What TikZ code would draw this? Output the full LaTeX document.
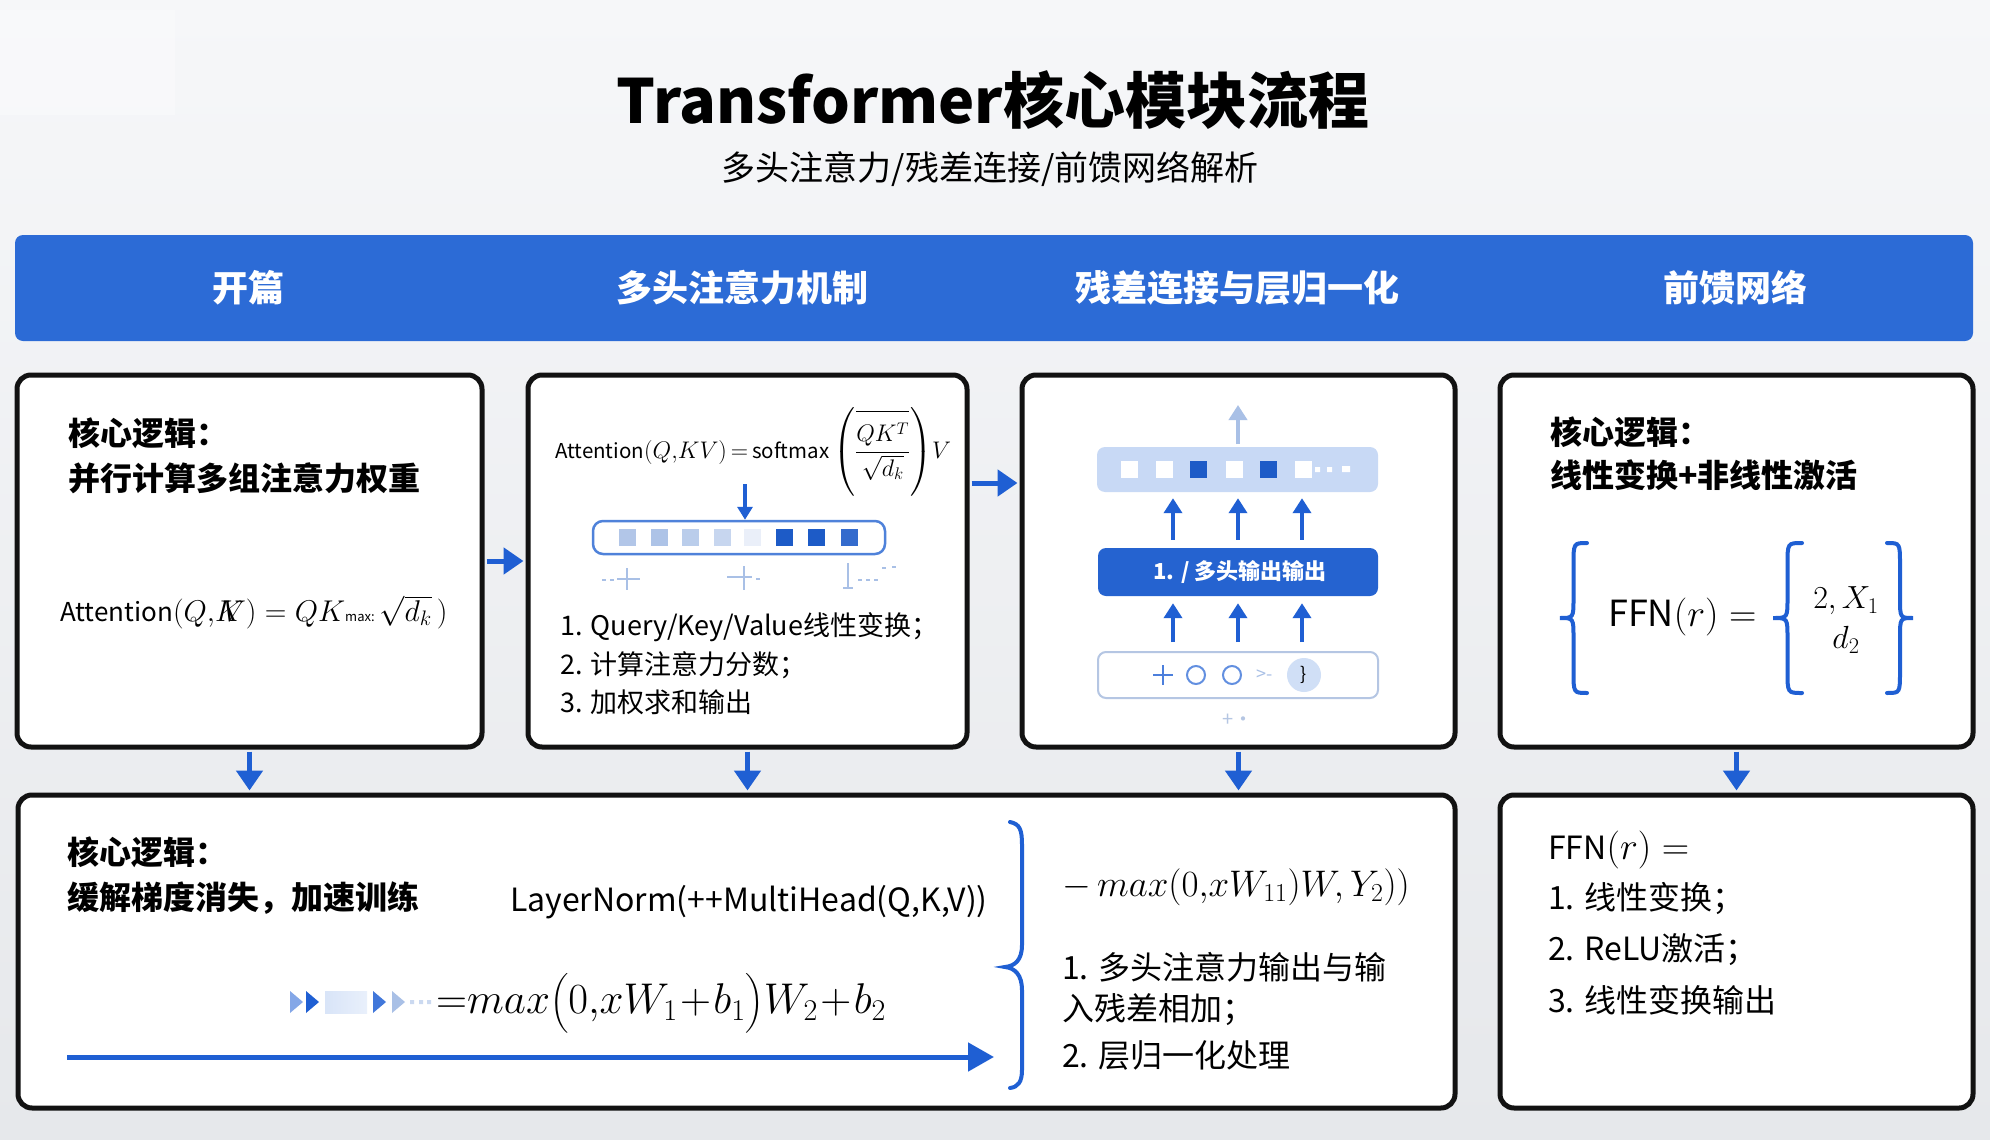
\RequirePackage{fix-cm}
\documentclass[tikz,border=0pt]{standalone}
\usepackage{amsmath}
\usepackage{fontspec}
\setmainfont{Noto Sans CJK SC}
\usetikzlibrary{arrows.meta}
\definecolor{bandblue}{HTML}{2C6BD6}
\definecolor{arrblue}{HTML}{1F5FD3}
\definecolor{dkblue}{HTML}{1D5BC7}
\definecolor{midblue}{HTML}{2563D0}
\definecolor{ltblue}{HTML}{C8D9F5}
\definecolor{boxline}{HTML}{121212}
\definecolor{bgtop}{HTML}{F6F7F9}
\definecolor{bgbot}{HTML}{E6E8EB}
\definecolor{faint}{HTML}{A9C0E6}
\definecolor{barline}{HTML}{4F82DA}
\definecolor{bbline}{HTML}{B5C6E3}

\newcommand\mkbox[6]{%
 \pgfmathsetmacro\mbw{#4-#2}\pgfmathsetmacro\mbh{#5-#3}%
 \pgfmathsetmacro\mcx{(#2+#4)/2}\pgfmathsetmacro\mcy{(#3+#5)/2}%
 \node[#6, inner sep=0pt, minimum width=\mbw pt, minimum height=\mbh pt] (#1) at (\mcx,\mcy) {};}
\newcommand\sqr[3]{\fill[#3] ({#1-8.5},{#2-8.5}) rectangle ({#1+8.5},{#2+8.5});}
\newcommand\lbrc[4]{%
 \pgfmathsetmacro\bxm{(#1+#2)/2}\pgfmathsetmacro\bym{(#3+#4)/2}%
 \draw[brc] (#2,#3) .. controls (\bxm,#3) .. (\bxm,{#3+22}) -- (\bxm,{\bym-20}) .. controls (\bxm,\bym) .. (#1,\bym) .. controls (\bxm,\bym) .. (\bxm,{\bym+20}) -- (\bxm,{#4-22}) .. controls (\bxm,#4) .. (#2,#4);}
\newcommand\rbrc[4]{%
 \pgfmathsetmacro\bxm{(#1+#2)/2}\pgfmathsetmacro\bym{(#3+#4)/2}%
 \draw[brc] (#1,#3) .. controls (\bxm,#3) .. (\bxm,{#3+22}) -- (\bxm,{\bym-20}) .. controls (\bxm,\bym) .. (#2,\bym) .. controls (\bxm,\bym) .. (\bxm,{\bym+20}) -- (\bxm,{#4-22}) .. controls (\bxm,#4) .. (#1,#4);}
\newcommand\chev[4]{\fill[#4] (#1,{#3-11}) -- ({#1+#2},#3) -- (#1,{#3+11}) -- cycle;}
\newcommand\fs[1]{\fontsize{#1}{#1}\selectfont}

\begin{document}
\begin{tikzpicture}[x=1pt,y=-1pt,
  box/.style={draw=boxline, line width=5pt, fill=white, rounded corners=14pt},
  arr/.style={draw=arrblue, line width=5pt, shorten <=2pt, shorten >=2pt, -{Triangle[length=20pt,width=26pt]}},
  uparr/.style={draw=arrblue, line width=4.5pt, -{Triangle[length=15pt,width=18pt]}},
  txt/.style={anchor=west, inner sep=0pt, font=\fontsize{32}{38}\selectfont},
  btxt/.style={anchor=west, inner sep=0pt, font=\fontsize{32}{38}\selectfont\bfseries},
  hdr/.style={text=white, inner sep=0pt, font=\fontsize{36}{40}\selectfont\bfseries},
  brc/.style={draw=arrblue, line width=4pt, line cap=round},
]
\useasboundingbox (0,0) rectangle (1990,1140);
\shade[top color=bgtop, bottom color=bgbot] (0,0) rectangle (1990,1140);
\fill[white, opacity=0.3] (0,10) rectangle (175,115);

% title
\node[inner sep=0pt, font=\fontsize{61}{68}\selectfont\bfseries] (title) at (993,100) {Transformer核心模块流程};
\node[inner sep=0pt, font=\fontsize{34}{40}\selectfont] (sub) at (990,169) {多头注意力/残差连接/前馈网络解析};

% band
\mkbox{band}{15}{235}{1973}{341}{fill=bandblue, draw=none, rounded corners=8pt}
\node[hdr] (h1) at (248,288) {开篇};
\node[hdr] (h2) at (742,288) {多头注意力机制};
\node[hdr] (h3) at (1237,288) {残差连接与层归一化};
\node[hdr] (h4) at (1735,288) {前馈网络};

% boxes
\mkbox{b1}{17}{375}{482}{747}{box}
\mkbox{b2}{528}{375}{967}{747}{box}
\mkbox{b3}{1022}{375}{1455}{747}{box}
\mkbox{b4}{1500}{375}{1973}{747}{box}
\mkbox{b5}{18}{795}{1455}{1108}{box}
\mkbox{b6}{1500}{795}{1973}{1108}{box}

% connectors
\draw[arr] (b1.east) -- (b2.west);
\draw[arr] ([yshift=78pt]b2.east) -- ([yshift=78pt]b3.west);
\draw[arr] (b1.south) -- (b1.south |- b5.north);
\draw[arr] (b2.south) -- (b2.south |- b5.north);
\draw[arr] (b3.south) -- (b3.south |- b5.north);
\draw[arr] (b4.south) -- (b6.north);

% box 1
\node[btxt] (t1a) at (68,433) {核心逻辑：};
\node[btxt] (t1b) at (68,478) {并行计算多组注意力权重};
\node[txt, font=\fs{30}] (f1) at (60,612) {{\fs{26}Attention}$(Q,\!K\!\!\!\!V) = QK${\fs{13}max:}$\,\sqrt{d_k}\,)$};

% box 2
\node[txt, font=\fs{24}] (f2) at (555,452) {{\fs{20.5}Attention}$(Q,\!KV)\,{=}\,${\fs{20.5}softmax}$\,\left(\dfrac{\overline{\rule{0pt}{1.1em}QK^T}}{\sqrt{d_k}}\right)\!V$};
\coordinate (d2a) at (745,484);
\mkbox{bar2}{593}{521}{885}{554}{fill=white, draw=barline, line width=2.5pt, rounded corners=10pt}
\draw[draw=arrblue, line width=3.5pt, -{Triangle[length=13pt,width=15pt]}] (d2a) -- (d2a |- bar2.north);
\sqr{627}{537}{fill=faint!90!white}
\sqr{659}{537}{fill=faint!95!white}
\sqr{690}{537}{fill=faint!80!white}
\sqr{722}{537}{fill=faint!65!white}
\sqr{752}{537}{fill=faint!25!white}
\sqr{784}{537}{fill=dkblue}
\sqr{816}{537}{fill=dkblue}
\sqr{849}{537}{fill=dkblue!90!white}
\begin{scope}[draw=faint, line width=2pt]
 \draw (602,580) -- (606,580) (610,580) -- (614,580);
 \draw (617,579) -- (640,579) (627,568) -- (627,590);
 \draw (727,577) -- (752,577) (744,566) -- (744,590) (756,579) -- (760,579);
 \draw (848,563) -- (848,588) (843,588) -- (853,588) (858,580) -- (862,580) (866,580) -- (870,580) (874,580) -- (878,580) (882,568) -- (886,568) (892,567) -- (896,567);
\end{scope}
\node[txt, font=\fontsize{27}{32}\selectfont] (l2a) at (560,627) {1. Query/Key/Value线性变换；};
\node[txt, font=\fontsize{27}{32}\selectfont] (l2b) at (560,665) {2. 计算注意力分数；};
\node[txt, font=\fontsize{27}{32}\selectfont] (l2c) at (560,702) {3. 加权求和输出};

% box 3
\mkbox{tb3}{1097}{447}{1378}{492}{fill=ltblue, draw=none, rounded corners=8pt}
\coordinate (u0a) at (1238,444);
\coordinate (u0b) at (1238,405);
\draw[uparr, draw=faint] (u0a) -- (u0b);
\sqr{1129}{469}{fill=white}
\sqr{1164}{469}{fill=white}
\sqr{1198}{469}{fill=dkblue}
\sqr{1234}{469}{fill=white}
\sqr{1268}{469}{fill=dkblue}
\sqr{1303}{469}{fill=white}
\fill[white] (1315,467) rectangle (1320,472) (1327,467) rectangle (1332,472) (1342,466) rectangle (1350,472);
\mkbox{mb3}{1098}{548}{1378}{596}{fill=midblue, draw=none, rounded corners=8pt}
\node[text=white, inner sep=0pt, font=\fontsize{22}{24}\selectfont\bfseries] (mbt) at (1240,572) {1. / 多头输出输出};
\mkbox{bb3}{1098}{652}{1378}{698}{fill=white, draw=bbline, line width=2pt, rounded corners=8pt}
\foreach \dx in {-65,0,64}{
  \draw[uparr, shorten <=8pt, shorten >=6pt] ([xshift=\dx pt]mb3.north) -- ([xshift=\dx pt]mb3.north |- tb3.south);
  \draw[uparr, shorten <=9pt, shorten >=7pt] ([xshift=\dx pt]bb3.north) -- ([xshift=\dx pt]bb3.north |- mb3.south);
}
\draw[line width=2.5pt, draw=arrblue!80!white] (1153,675) -- (1173,675) (1163,665) -- (1163,685);
\draw[line width=2pt, draw=arrblue!70!white] (1196,675) circle (9pt);
\draw[line width=2pt, draw=arrblue!70!white] (1232,675) circle (9pt);
\node[text=faint, inner sep=0pt, font=\fontsize{18}{20}\selectfont] (gt3) at (1265,675) {>-};
\node[circle, fill=ltblue!85!white, minimum size=34pt, inner sep=0pt, font=\fontsize{18}{20}\selectfont] (cc3) at (1304,675) {\}};
\node[text=bbline, inner sep=0pt, font=\fontsize{20}{22}\selectfont] (pl3) at (1238,720) {+·};

% box 4
\node[btxt] (t4a) at (1550,432) {核心逻辑：};
\node[btxt] (t4b) at (1550,475) {线性变换+非线性激活};
\lbrc{1560}{1587}{543}{693}
\node[anchor=west, inner sep=0pt, font=\fs{38}] (ffn) at (1608,617) {{\fs{36}FFN}$(r)=$};
\lbrc{1773}{1802}{543}{693}
\node[inner sep=0pt, align=center, font=\fontsize{32}{40}\selectfont] (mat4) at (1846,620) {$2,X_1$\\$d_2$};
\rbrc{1887}{1913}{543}{693}

% box 5
\node[btxt] (t5a) at (67,852) {核心逻辑：};
\node[btxt] (t5b) at (67,898) {缓解梯度消失，加速训练};
\node[txt] (ln5) at (510,902) {LayerNorm(++MultiHead(Q,K,V))};
\chev{290}{13}{1002}{fill=arrblue!55!white}
\chev{306}{13}{1002}{fill=arrblue}
\fill[left color=ltblue!70!white, right color=ltblue!40!white] (325,991) rectangle (367,1013);
\chev{373}{13}{1002}{fill=arrblue!85!white}
\chev{392}{13}{1002}{fill=faint}
\fill[faint!60!white] (410,1000) rectangle (414,1004) (419,1000) rectangle (423,1004) (427,1000) rectangle (431,1004);
\node[txt, font=\fs{43}] (f5) at (436,1003) {${=}max\bigl(0,\!xW_1\!+\!b_1\bigr)W_2\!+\!b_2$};
\coordinate (la1) at (67,1057);
\coordinate (la2) at (994,1057);
\draw[draw=arrblue, line width=5pt, -{Triangle[length=26pt,width=28pt]}] (la1) -- (la2);
\draw[brc] (1010,822) .. controls (1020,824) and (1022,830) .. (1022,845) -- (1022,945) .. controls (1022,960) and (1015,966) .. (1005,967) .. controls (1015,968) and (1022,975) .. (1022,990) -- (1022,1070) .. controls (1022,1082) and (1018,1087) .. (1010,1088);
\node[txt, font=\fs{37}] (f5b) at (1062,887) {$-\,max(0,\!xW_{11})W,Y_2))$};
\node[txt] (l5a) at (1062,967) {1. 多头注意力输出与输};
\node[txt] (l5b) at (1062,1010) {入残差相加；};
\node[txt] (l5c) at (1062,1055) {2. 层归一化处理};

% box 6
\node[txt, font=\fs{38}] (l6a) at (1548,850) {{\fs{32}FFN}$(r)=$};
\node[txt] (l6b) at (1548,898) {1. 线性变换；};
\node[txt] (l6c) at (1548,950) {2. ReLU激活；};
\node[txt] (l6d) at (1548,1000) {3. 线性变换输出};
\end{tikzpicture}
\end{document}
